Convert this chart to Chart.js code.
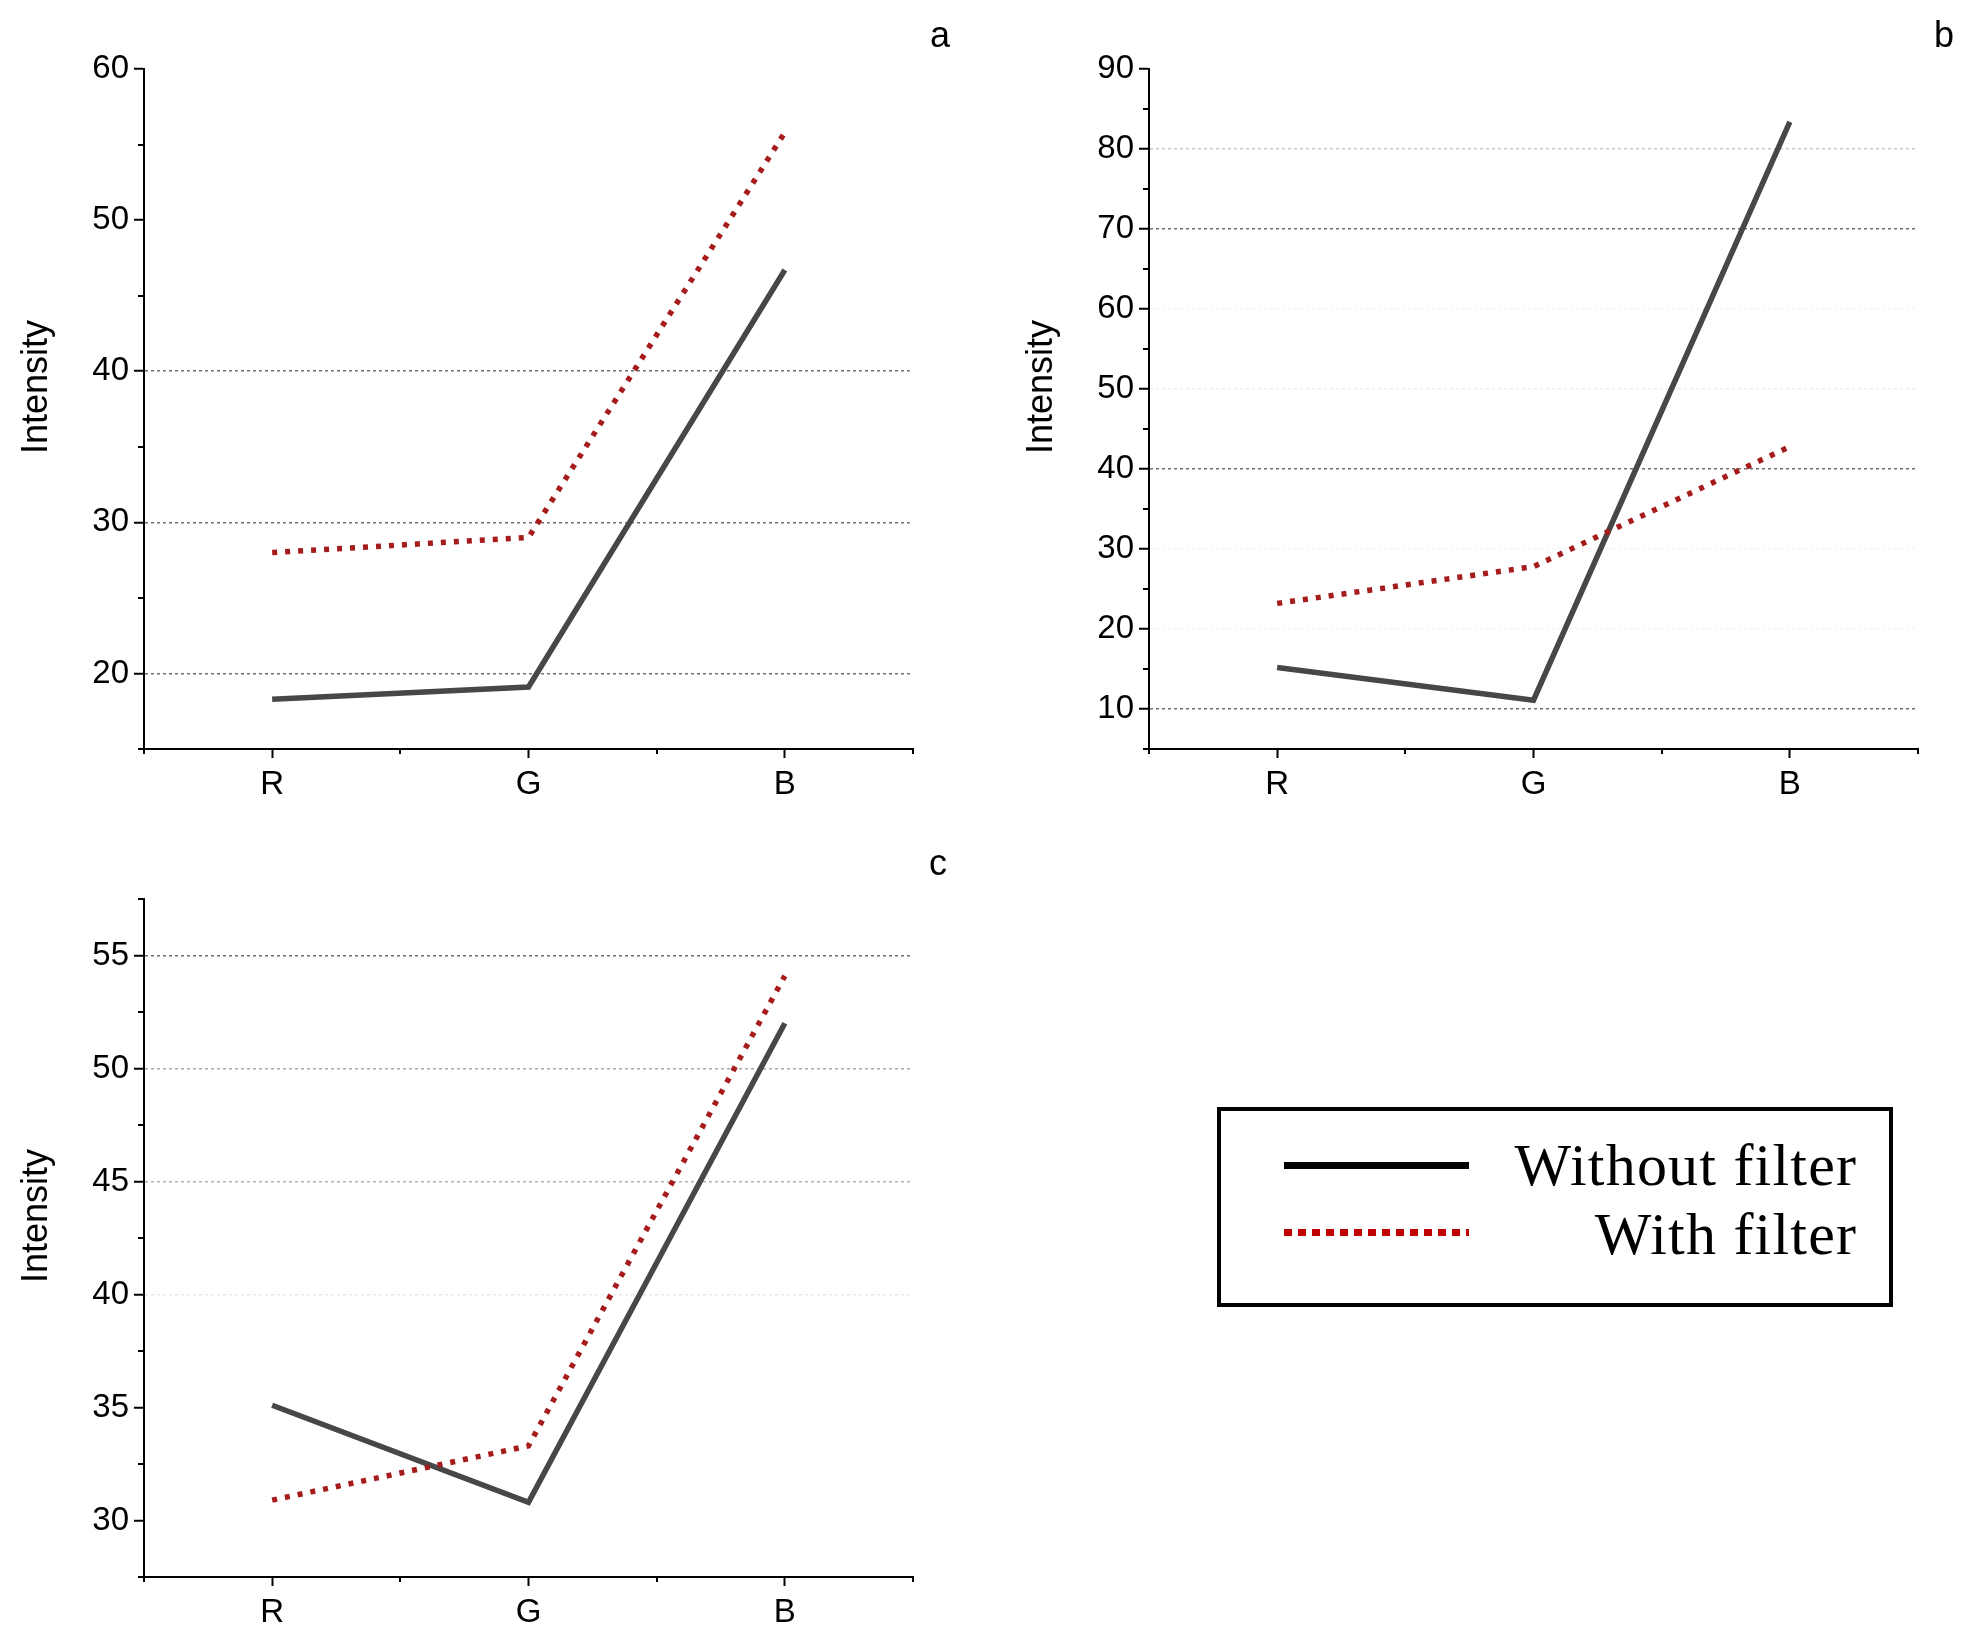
<!DOCTYPE html>
<html>
<head>
<meta charset="utf-8">
<script src="https://cdn.jsdelivr.net/npm/chart.js@4.4.1/dist/chart.umd.min.js"></script>
<style>
  body { margin: 0; background: #fff; width: 1966px; height: 1636px; position: relative; overflow: hidden; font-family: "Liberation Sans", Arial, sans-serif; }
  .panel { position: absolute; }
  .tag { position: absolute; font-size: 36px; line-height: 1; color: #000; }
  #legend { position: absolute; left: 1217px; top: 1107px; width: 676px; height: 200px; border: 4px solid #000; box-sizing: border-box; background: #fff; }
  #legend .solid { position: absolute; left: 63px; top: 51px; width: 185px; height: 7px; background: #000; }
  #legend .dots { position: absolute; left: 63px; top: 118px; width: 185px; height: 7px;
    background: repeating-linear-gradient(90deg, #c00000 0 8px, transparent 8px 14px); }
  #legend .txt { position: absolute; right: 33px; font-family: "Liberation Serif", serif; font-size: 60px; line-height: 1; color: #000; white-space: nowrap; letter-spacing: 1.2px; margin-right: -1.2px; }
</style>
</head>
<body>
<div class="panel" id="wa"><canvas id="chartA"></canvas></div>
<div class="panel" id="wb"><canvas id="chartB"></canvas></div>
<div class="panel" id="wc"><canvas id="chartC"></canvas></div>
<div class="tag" style="left:930px; top:17px;">a</div>
<div class="tag" style="left:1934px; top:17px;">b</div>
<div class="tag" style="left:929px; top:845px;">c</div>
<div id="legend">
  <div class="solid"></div>
  <div class="dots"></div>
  <div class="txt" style="top:24px;">Without filter</div>
  <div class="txt" style="top:93px;">With filter</div>
</div>
<script>
// data
const categories = ['R', 'G', 'B'];

const withoutFilterA = [18.3, 19.1, 46.7];
const withFilterA = [28.0, 29.0, 55.8];

const withoutFilterB = [15.2, 11.1, 83.4];
const withFilterB = [23.2, 27.8, 42.8];

const withoutFilterC = [35.1, 30.8, 52.0];
const withFilterC = [30.9, 33.3, 54.1];

// y axis ranges: [min, max, major step]
const yAxisA = [15, 60, 10];
const yAxisB = [5, 90, 10];
const yAxisC = [27.5, 57.5, 5];

// gridlines in the original fade in and out, keep the visible ones
const gridA = { 20: '#707070', 30: '#707070', 40: '#707070' };
const gridB = { 10: '#707070', 40: '#707070', 70: '#707070', 80: '#c8c8c8', 50: '#efefef', 60: '#f3f3f3', 20: '#f3f3f3', 30: '#f3f3f3' };
const gridC = { 55: '#707070', 50: '#a8a8a8', 45: '#b4b4b4', 40: '#e8e8e8' };

const FONT = 'Liberation Sans';
const PAD_L = 143, PAD_T = 69, PAD_R = 48, PAD_B = 71;

function isMajor(v, step) {
    return Math.abs(v / step - Math.round(v / step)) < 1e-6;
}

// short minor ticks (Chart.js has only one tick length per axis) and the axis title
const extras = {
    id: 'extras',
    afterDraw(chart, args, opts) {
        const { ctx, chartArea, scales: { x, y } } = chart;
        ctx.save();
        ctx.strokeStyle = '#000';
        ctx.lineWidth = 2;
        ctx.beginPath();
        y.ticks.forEach(t => {
            if (isMajor(t.value, opts.step)) return;
            const py = Math.round(y.getPixelForValue(t.value));
            ctx.moveTo(chartArea.left, py);
            ctx.lineTo(chartArea.left - 6, py);
        });
        const half = (x.getPixelForValue(1) - x.getPixelForValue(0)) / 2;
        for (let i = 0; i <= categories.length; i++) {
            const px = Math.round(x.getPixelForValue(0) - half + i * 2 * half);
            ctx.moveTo(px, chartArea.bottom);
            ctx.lineTo(px, chartArea.bottom + 5);
        }
        ctx.stroke();

        // "Intensity" sits a little above the middle of the axis in the original
        ctx.translate(chartArea.left - 107, (chartArea.top + chartArea.bottom) / 2 - 22);
        ctx.rotate(-Math.PI / 2);
        ctx.fillStyle = '#000';
        ctx.font = '36px "' + FONT + '"';
        ctx.textAlign = 'center';
        ctx.textBaseline = 'middle';
        ctx.fillText('Intensity', 0, 0);
        ctx.restore();
    }
};

function makePanel(wrapId, canvasId, box, without, withF, yAxis, gridColors) {
    const [l, t, r, b] = box;
    const w = r - l + PAD_L + PAD_R;
    const h = b - t + PAD_T + PAD_B;
    const wrap = document.getElementById(wrapId);
    wrap.style.left = (l - PAD_L) + 'px';
    wrap.style.top = (t - PAD_T) + 'px';
    const canvas = document.getElementById(canvasId);
    canvas.width = w;
    canvas.height = h;
    const [yMin, yMax, step] = yAxis;

    new Chart(canvas.getContext('2d'), {
        type: 'line',
        data: {
            labels: categories,
            datasets: [{
                label: 'With filter',
                data: withF,
                borderColor: '#a61c1c',
                borderWidth: 5.5,
                borderDash: [5, 8],
                borderCapStyle: 'butt',
                pointRadius: 0,
                tension: 0,
                order: 0
            }, {
                label: 'Without filter',
                data: without,
                borderColor: '#474747',
                borderWidth: 5.5,
                pointRadius: 0,
                tension: 0,
                order: 1
            }]
        },
        options: {
            responsive: false,
            animation: false,
            layout: { padding: { top: PAD_T, right: PAD_R, left: 0, bottom: 0 } },
            plugins: {
                legend: { display: false },
                tooltip: { enabled: false },
                extras: { step: step }
            },
            scales: {
                x: {
                    type: 'category',
                    offset: true,
                    afterFit(s) { s.height = PAD_B; },
                    grid: { drawOnChartArea: false, offset: false, tickLength: 9, tickColor: '#000', tickWidth: 2 },
                    border: { color: '#000', width: 2 },
                    ticks: { color: '#000', padding: 7, font: { family: FONT, size: 33 } }
                },
                y: {
                    min: yMin,
                    max: yMax,
                    afterFit(s) { s.width = PAD_L; },
                    ticks: {
                        stepSize: step / 2,
                        maxTicksLimit: 100,
                        autoSkip: false,
                        color: '#000',
                        padding: 5,
                        font: { family: FONT, size: 33 },
                        callback: v => isMajor(v, step) ? v : ''
                    },
                    grid: {
                        color: c => (c.tick && gridColors[c.tick.value]) || 'rgba(0,0,0,0)',
                        lineWidth: 1.5,
                        tickLength: 10,
                        tickWidth: 2,
                        tickBorderDash: [],
                        tickColor: c => (c.tick && isMajor(c.tick.value, step)) ? '#000' : 'rgba(0,0,0,0)'
                    },
                    border: { color: '#000', width: 2, dash: [3, 3] },
                    title: { display: false }
                }
            }
        },
        plugins: [extras]
    });
}

makePanel('wa', 'chartA', [144, 69, 913, 749], withoutFilterA, withFilterA, yAxisA, gridA);
makePanel('wb', 'chartB', [1149, 69, 1918, 749], withoutFilterB, withFilterB, yAxisB, gridB);
makePanel('wc', 'chartC', [144, 899, 913, 1577], withoutFilterC, withFilterC, yAxisC, gridC);
</script>
</body>
</html>
